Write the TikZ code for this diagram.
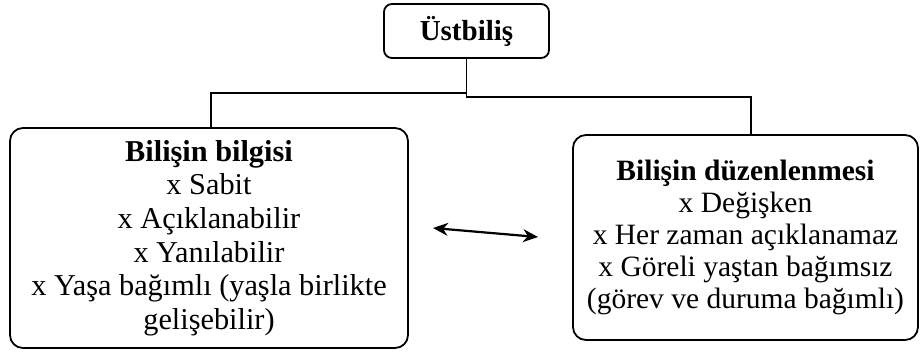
\documentclass[tikz,border=0pt]{standalone}
\usepackage{fontspec}
\setmainfont{Liberation Serif}
\usetikzlibrary{arrows.meta}
\begin{document}
\begin{tikzpicture}[x=1pt, y=-1pt,
  box/.style={draw, line width=1.8pt, rounded corners=13pt, inner sep=0pt,
    outer sep=0pt, align=center},
  headbox/.style={box, rounded corners=8pt, font=\fontsize{29}{33}\selectfont\bfseries},
  link/.style={line width=1.5pt},
  both/.style={line width=2.2pt, {Stealth[length=15pt,width=13pt]}-{Stealth[length=15pt,width=13pt]}}]
\useasboundingbox (0,0) rectangle (921,354);

% top concept
\node[headbox, minimum width=165pt, minimum height=54pt] (top) at (466.5,31) {Üstbiliş};

% the two branches
\node[box, minimum width=398pt, minimum height=220pt,
      font=\fontsize{30.3}{33.6}\selectfont] (know) at (209,238)
  {\textbf{Bilişin bilgisi}\\ x Sabit\\ x Açıklanabilir\\ x Yanılabilir\\
   x Yaşa bağımlı (yaşla birlikte\\ gelişebilir)};
\node[box, minimum width=345pt, minimum height=205pt,
      font=\fontsize{29.5}{32}\selectfont] (reg) at (745.5,237.5)
  {\textbf{Bilişin düzenlenmesi}\\ x Değişken\\ x Her zaman açıklanamaz\\
   x Göreli yaştan bağımsız\\ (görev ve duruma bağımlı)};

% elbow connectors from the top box
\coordinate (lj) at (211,93);
\coordinate (rj) at (751,97);
\draw[link] (top.south) |- (lj) -- (lj |- know.north);
\draw[link] (top.south) |- (rj) -- (rj |- reg.north);

% two-way relation between the branches
\coordinate (a1) at (433,228);
\coordinate (a2) at (538,237);
\draw[both] (a1) -- (a2);
\end{tikzpicture}
\end{document}
